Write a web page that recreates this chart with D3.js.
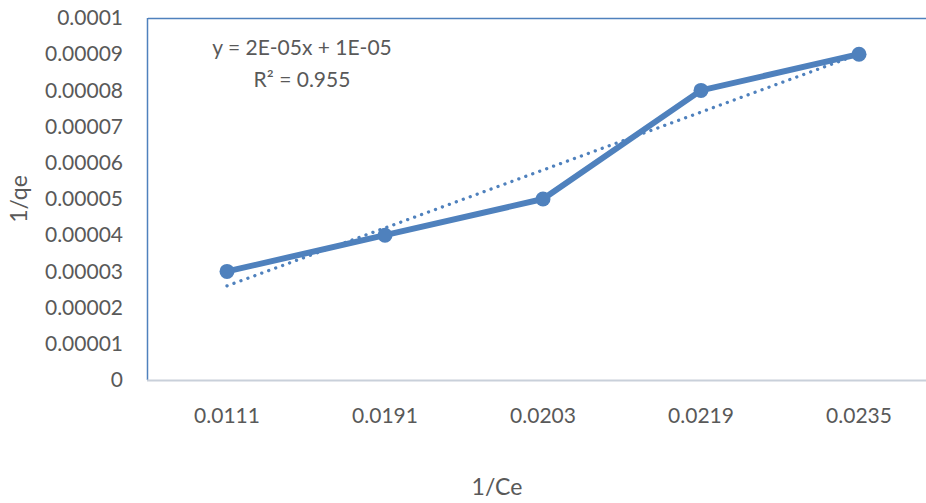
<!DOCTYPE html>
<html><head><meta charset="utf-8">
<script src="https://cdn.jsdelivr.net/npm/d3@7"></script>
<style>body{margin:0;background:#fff;overflow:hidden}text{font-family:Lato,"Noto Sans",sans-serif;fill:#595959}</style>
</head><body><svg id="c" width="926" height="503"></svg>
<script>
const categories = ["0.0111","0.0191","0.0203","0.0219","0.0235"];
const values = [0.00003,0.00004,0.00005,0.00008,0.00009];
const yTicks = [0,0.00001,0.00002,0.00003,0.00004,0.00005,0.00006,0.00007,0.00008,0.00009,0.0001];
const yTickLabels = ["0","0.00001","0.00002","0.00003","0.00004","0.00005","0.00006","0.00007","0.00008","0.00009","0.0001"];
const equationLines = ["y = 2E-05x + 1E-05","R² = 0.955"];

const svg = d3.select("#c");
const L=148, R=938, T=18, B=380;
const color = "#4f81bd";
const x = d3.scaleBand().domain(categories).range([L,R]);
const cx = c => x(c)+x.bandwidth()/2;
const y = d3.scaleLinear().domain([0,0.0001]).range([B,T]);

// plot border
svg.append("line").attr("x1",L).attr("x2",926).attr("y1",T+0.5).attr("y2",T+0.5).attr("stroke",color).attr("stroke-width",1.5);
svg.append("line").attr("x1",L-0.5).attr("x2",L-0.5).attr("y1",T).attr("y2",B).attr("stroke",color).attr("stroke-width",1.5);
svg.append("line").attr("x1",L-1).attr("x2",926).attr("y1",B+0.5).attr("y2",B+0.5).attr("stroke","#c9d0da").attr("stroke-width",2);

// y axis labels
const yAxis = d3.axisLeft(y).tickValues(yTicks).tickFormat((d,i)=>yTickLabels[i]).tickSize(0).tickPadding(0);
const gy = svg.append("g").attr("transform",`translate(${123},0)`).call(yAxis);
gy.select(".domain").remove();
gy.selectAll("text").style("font-size","21px").style("fill","#595959").style("font-family","Lato");

// x axis labels
const xAxis = d3.axisBottom(x).tickSize(0).tickPadding(0);
const gx = svg.append("g").attr("transform",`translate(0,${408})`).call(xAxis);
gx.select(".domain").remove();
gx.selectAll("text").style("font-size","21px").style("fill","#595959").style("font-family","Lato");

// titles
svg.append("text").attr("x",497).attr("y",495).attr("text-anchor","middle").style("font-size","23px").text("1/Ce");
svg.append("text").attr("transform","translate(27,199) rotate(-90)").attr("text-anchor","middle").style("font-size","23px").text("1/qe");

// trendline (least squares over category index)
const xi = values.map((v,i)=>i+1);
const mx = d3.mean(xi), my = d3.mean(values);
const slope = d3.sum(xi.map((v,i)=>(v-mx)*(values[i]-my)))/d3.sum(xi.map(v=>(v-mx)**2));
const icpt = my - slope*mx;
svg.append("line")
 .attr("x1",cx(categories[0])).attr("y1",y(icpt+slope*1))
 .attr("x2",cx(categories[4])).attr("y2",y(icpt+slope*5))
 .attr("stroke",color).attr("stroke-width",3.3).attr("stroke-linecap","round").attr("stroke-dasharray","0.1 7.3");

// series line
const line = d3.line().x((d,i)=>cx(categories[i])).y(d=>y(d));
svg.append("path").datum(values).attr("d",line).attr("fill","none").attr("stroke",color).attr("stroke-width",6).attr("stroke-linejoin","round");
svg.selectAll("circle.pt").data(values).join("circle").attr("class","pt")
 .attr("cx",(d,i)=>cx(categories[i])).attr("cy",d=>y(d)).attr("r",7.5).attr("fill",color);

// equation
svg.selectAll("text.eq").data(equationLines).join("text").attr("class","eq")
 .attr("x",302).attr("y",(d,i)=>55+i*32).attr("text-anchor","middle").style("font-size","21px").text(d=>d);
</script></body></html>
